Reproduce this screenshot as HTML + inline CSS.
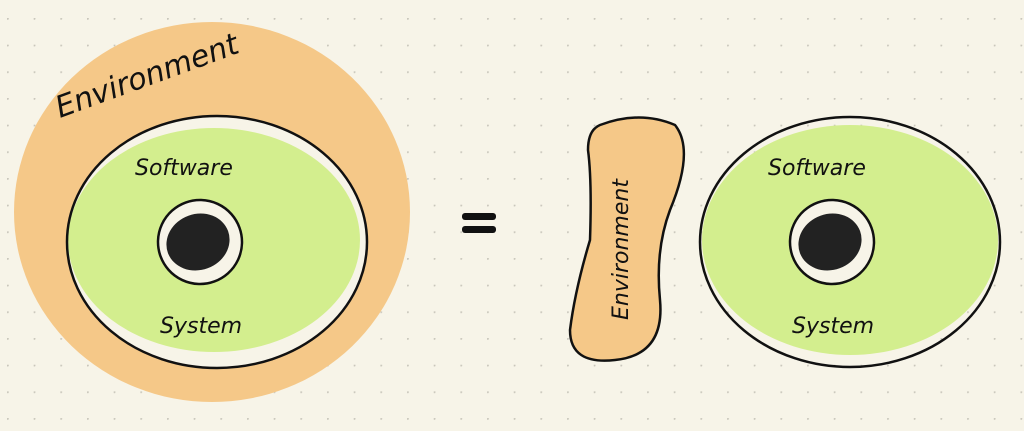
<!DOCTYPE html>
<html><head><meta charset="utf-8"><style>
html,body{margin:0;padding:0;background:#f7f4e8;}
svg{display:block}
text{font-family:"DejaVu Sans","Liberation Sans",sans-serif;font-style:italic;fill:#111}
</style></head><body>
<svg width="1024" height="431" viewBox="0 0 1024 431">
<defs>
<pattern id="dots" x="7" y="18" width="26.67" height="26.67" patternUnits="userSpaceOnUse">
<circle cx="0.7" cy="0.7" r="1.1" fill="#c9c6bb"/>
</pattern>
</defs>
<rect width="1024" height="431" fill="#f7f4e8"/>
<rect width="1024" height="431" fill="url(#dots)"/>

<g>
<ellipse cx="212" cy="212" rx="198" ry="190" fill="#f5c888"/>
<ellipse cx="217" cy="242" rx="150" ry="126" fill="#f7f4e8"/>
<ellipse cx="214" cy="240" rx="146" ry="112" fill="#d3ee8e"/>
<ellipse cx="217" cy="242" rx="150" ry="126" fill="none" stroke="#111" stroke-width="2.5"/>
<ellipse cx="200" cy="242" rx="42" ry="42" fill="#f7f4e8" stroke="#111" stroke-width="2.5" transform="rotate(-20 200 242)"/>
<ellipse cx="198" cy="242" rx="32" ry="28" fill="#222" transform="rotate(-20 198 242)"/>
<text x="60" y="118" font-size="30" transform="rotate(-20 60 118)">Environment</text>
<text x="135" y="175" font-size="22">Software</text>
<text x="160" y="333" font-size="22">System</text>
</g>

<g>
<rect x="462" y="213" width="34" height="7" rx="3" fill="#111"/>
<rect x="462" y="226" width="34" height="7" rx="3" fill="#111"/>
</g>

<g>
<path d="M600 125 Q640 110 675 125 Q695 150 670 210 Q655 250 660 300 Q665 355 615 360 Q570 365 570 330 Q575 290 590 240 Q592 180 588 150 Q588 130 600 125 Z" fill="#f5c888" stroke="#111" stroke-width="2.5"/>
<text x="628" y="320" font-size="22" transform="rotate(-90 628 320)">Environment</text>
<ellipse cx="850" cy="240" rx="148" ry="115" fill="#d3ee8e"/>
<ellipse cx="850" cy="242" rx="150" ry="125" fill="none" stroke="#111" stroke-width="2.5"/>
<ellipse cx="832" cy="242" rx="42" ry="42" fill="#f7f4e8" stroke="#111" stroke-width="2.5" transform="rotate(-20 832 242)"/>
<ellipse cx="830" cy="242" rx="32" ry="28" fill="#222" transform="rotate(-20 830 242)"/>
<text x="768" y="175" font-size="22">Software</text>
<text x="792" y="333" font-size="22">System</text>
</g>
</svg>
</body></html>
